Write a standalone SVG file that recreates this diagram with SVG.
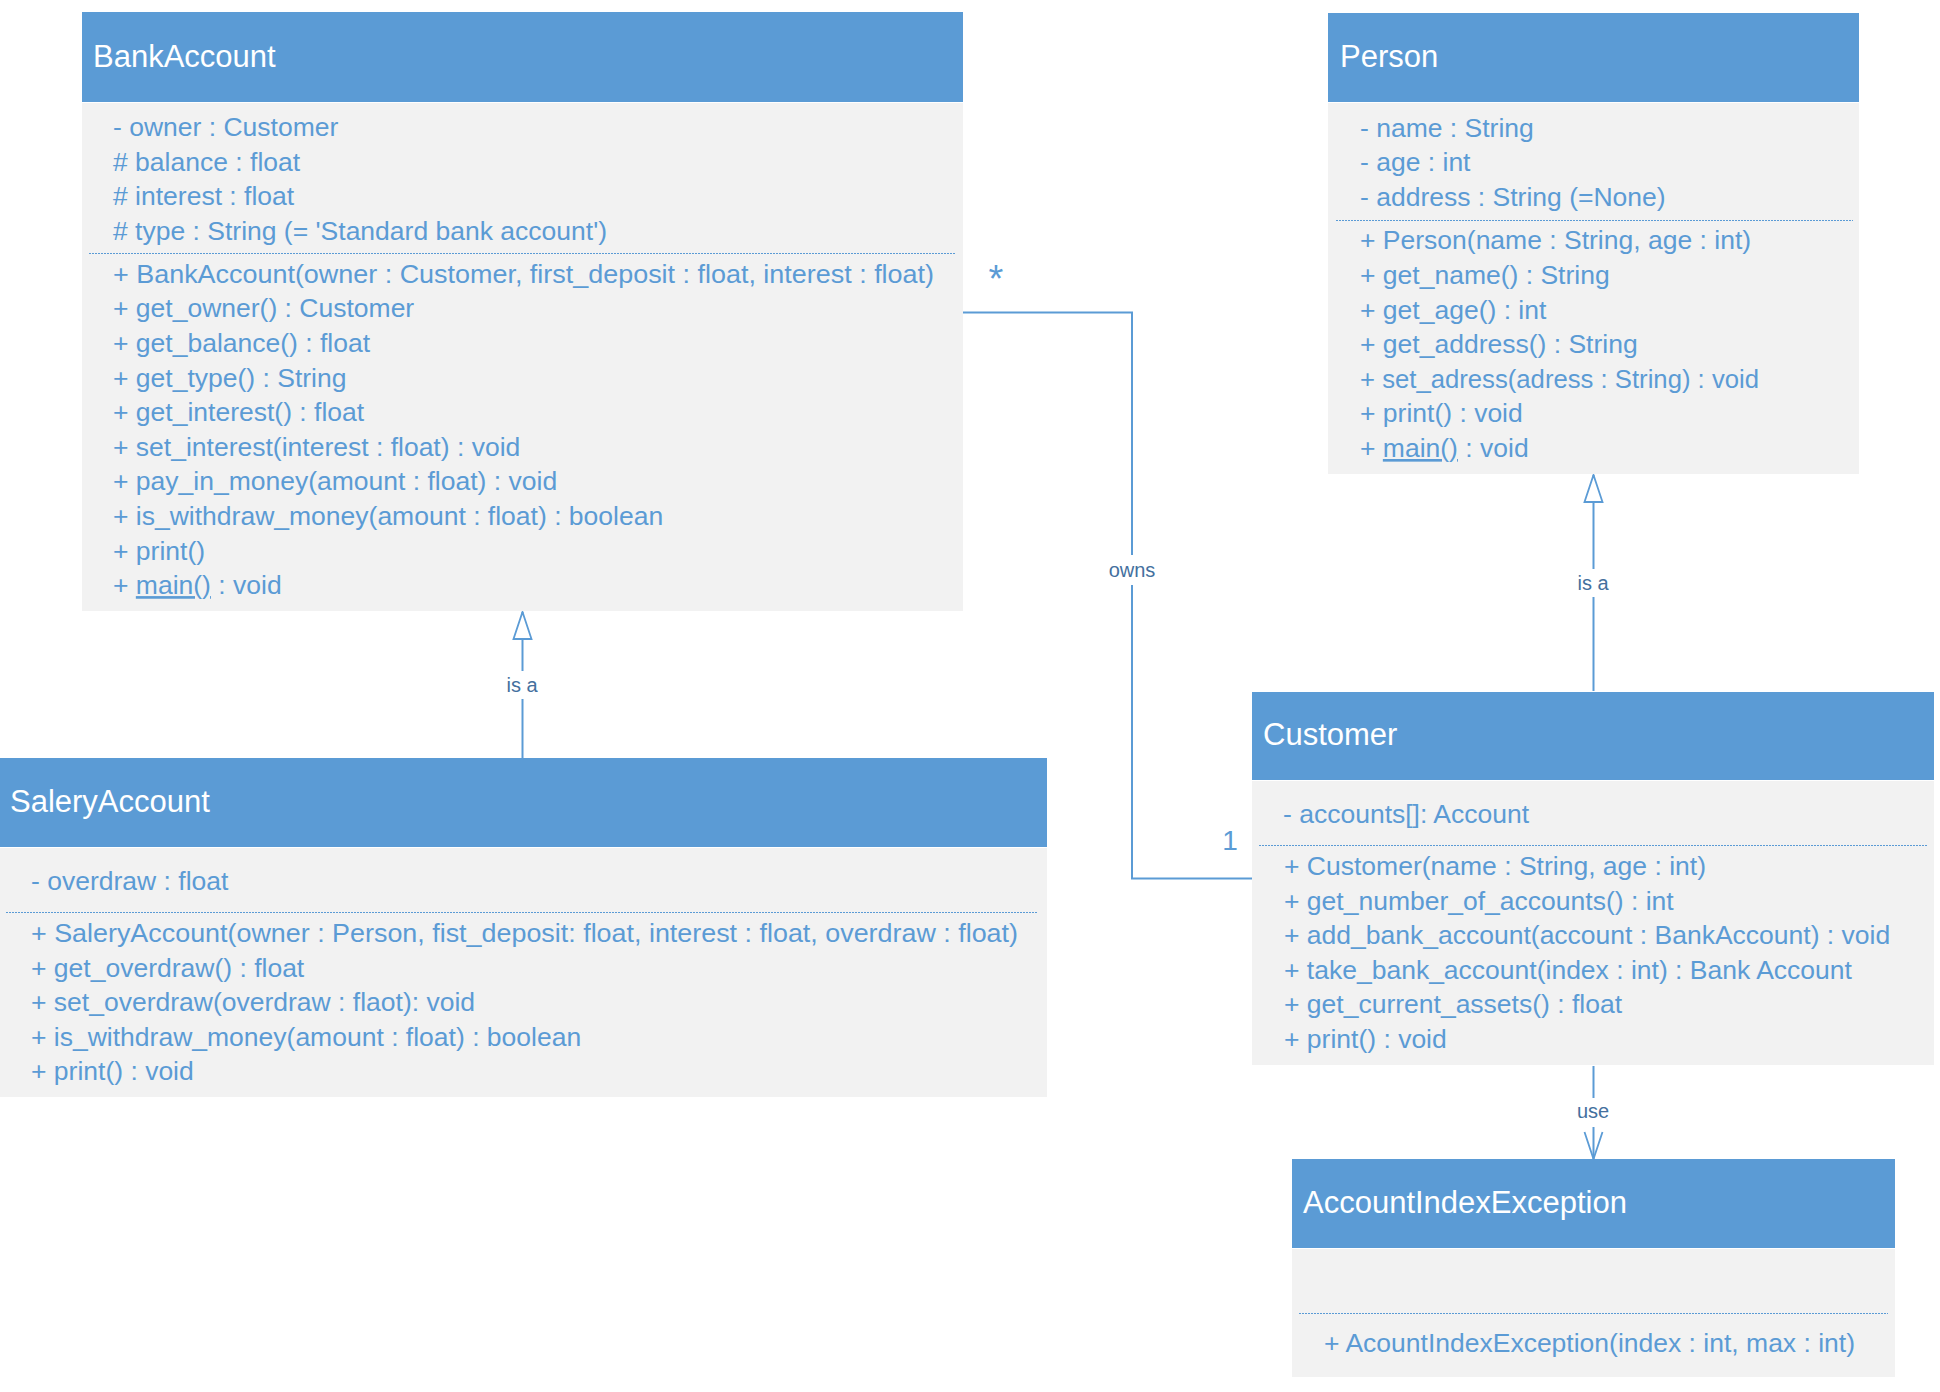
<svg xmlns="http://www.w3.org/2000/svg" width="1940" height="1392" viewBox="0 0 1940 1392">
<style>
.hdr{fill:#5B9BD5;}
.body{fill:#F2F2F2;}
.title{font-family:"Liberation Sans",Arial,sans-serif;font-size:31px;fill:#FFFFFF;}
.m{font-family:"Liberation Sans",Arial,sans-serif;font-size:26.5px;fill:#5B9BD5;}
.sep{stroke:#5B9BD5;stroke-width:1.2;stroke-dasharray:2 1;fill:none;}
.conn{stroke:#5B9BD5;stroke-width:2;fill:none;}
.lbl{font-family:"Liberation Sans",Arial,sans-serif;font-size:20px;fill:#44709E;text-anchor:middle;}
.mult{font-family:"Liberation Sans",Arial,sans-serif;font-size:28px;fill:#5B9BD5;text-anchor:middle;}
.star{font-family:"Liberation Sans",Arial,sans-serif;font-size:38px;fill:#5B9BD5;text-anchor:middle;}
.lblbg{fill:#FFFFFF;}
</style>
<defs>
<marker id="tri" markerUnits="userSpaceOnUse" markerWidth="30" markerHeight="22" refX="28" refY="11" orient="auto" viewBox="0 0 30 22">
<path d="M1,2 L28,11 L1,20 Z" fill="#FFFFFF" stroke="#5B9BD5" stroke-width="1.8"/>
</marker>
<marker id="open" markerUnits="userSpaceOnUse" markerWidth="30" markerHeight="22" refX="28" refY="11" orient="auto" viewBox="0 0 30 22">
<path d="M1,2 L28,11 L1,20" fill="none" stroke="#5B9BD5" stroke-width="1.8"/>
</marker>
</defs>
<rect width="1940" height="1392" fill="#FFFFFF"/>

<g id="connectors">
<g id="owns">
<polyline class="conn" points="963,312.5 1132,312.5 1132,878.5 1252,878.5"/>
<rect class="lblbg" x="1105" y="555" width="54" height="30"/>
<text class="lbl" x="1132" y="577">owns</text>
<text class="star" x="996" y="292">*</text>
<text class="mult" x="1230" y="850">1</text>
</g>
<g id="salery-isa">
<line class="conn" x1="522.5" y1="758" x2="522.5" y2="612" marker-end="url(#tri)"/>
<rect class="lblbg" x="500" y="671" width="45" height="28"/>
<text class="lbl" x="522" y="692">is a</text>
</g>
<g id="customer-isa">
<line class="conn" x1="1593.5" y1="691" x2="1593.5" y2="475" marker-end="url(#tri)"/>
<rect class="lblbg" x="1571" y="569" width="45" height="28"/>
<text class="lbl" x="1593" y="590">is a</text>
</g>
<g id="customer-use">
<line class="conn" x1="1593.5" y1="1066" x2="1593.5" y2="1159" marker-end="url(#open)"/>
<rect class="lblbg" x="1571" y="1098" width="45" height="29"/>
<text class="lbl" x="1593" y="1118">use</text>
</g>
</g>

<g id="BankAccount">
<rect class="hdr" x="82" y="12" width="881" height="90"/>
<rect class="body" x="82" y="103" width="881" height="508"/>
<text class="title" x="93" y="67">BankAccount</text>
<text class="m" x="113" y="136">- owner : Customer</text>
<text class="m" x="113" y="170.5"># balance : float</text>
<text class="m" x="113" y="205"># interest : float</text>
<text class="m" x="113" y="239.5"># type : String (= 'Standard bank account')</text>
<line class="sep" x1="89" y1="253.5" x2="956" y2="253.5"/>
<text class="m" x="113" y="282.7" textLength="821" lengthAdjust="spacingAndGlyphs">+ BankAccount(owner : Customer, first_deposit : float, interest : float)</text>
<text class="m" x="113" y="317.3">+ get_owner() : Customer</text>
<text class="m" x="113" y="351.9">+ get_balance() : float</text>
<text class="m" x="113" y="386.5">+ get_type() : String</text>
<text class="m" x="113" y="421.1">+ get_interest() : float</text>
<text class="m" x="113" y="455.7">+ set_interest(interest : float) : void</text>
<text class="m" x="113" y="490.3">+ pay_in_money(amount : float) : void</text>
<text class="m" x="113" y="524.9">+ is_withdraw_money(amount : float) : boolean</text>
<text class="m" x="113" y="559.5">+ print()</text>
<text class="m" x="113" y="594.1">+ <tspan text-decoration="underline">main()</tspan> : void</text>
</g>

<g id="Person">
<rect class="hdr" x="1328" y="13" width="531" height="89"/>
<rect class="body" x="1328" y="103" width="531" height="371"/>
<text class="title" x="1340" y="67">Person</text>
<text class="m" x="1360" y="136.7">- name : String</text>
<text class="m" x="1360" y="171.3">- age : int</text>
<text class="m" x="1360" y="206">- address : String (=None)</text>
<line class="sep" x1="1336" y1="220.5" x2="1853" y2="220.5"/>
<text class="m" x="1360" y="249.3">+ Person(name : String, age : int)</text>
<text class="m" x="1360" y="284">+ get_name() : String</text>
<text class="m" x="1360" y="318.6">+ get_age() : int</text>
<text class="m" x="1360" y="353.2">+ get_address() : String</text>
<text class="m" x="1360" y="387.8" textLength="399" lengthAdjust="spacingAndGlyphs">+ set_adress(adress : String) : void</text>
<text class="m" x="1360" y="422.4">+ print() : void</text>
<text class="m" x="1360" y="457">+ <tspan text-decoration="underline">main()</tspan> : void</text>
</g>

<g id="SaleryAccount">
<rect class="hdr" x="0" y="758" width="1047" height="89"/>
<rect class="body" x="0" y="848" width="1047" height="249"/>
<text class="title" x="10" y="812">SaleryAccount</text>
<text class="m" x="31" y="890">- overdraw : float</text>
<line class="sep" x1="6" y1="912.5" x2="1038" y2="912.5"/>
<text class="m" x="31" y="942" textLength="987" lengthAdjust="spacingAndGlyphs">+ SaleryAccount(owner : Person, fist_deposit: float, interest : float, overdraw : float)</text>
<text class="m" x="31" y="976.6">+ get_overdraw() : float</text>
<text class="m" x="31" y="1011.2">+ set_overdraw(overdraw : flaot): void</text>
<text class="m" x="31" y="1045.8">+ is_withdraw_money(amount : float) : boolean</text>
<text class="m" x="31" y="1080.4">+ print() : void</text>
</g>

<g id="Customer">
<rect class="hdr" x="1252" y="692" width="682" height="88"/>
<rect class="body" x="1252" y="781" width="682" height="284"/>
<text class="title" x="1263" y="745">Customer</text>
<text class="m" x="1283" y="822.7">- accounts[]: Account</text>
<line class="sep" x1="1259" y1="845.5" x2="1927" y2="845.5"/>
<text class="m" x="1284" y="875">+ Customer(name : String, age : int)</text>
<text class="m" x="1284" y="909.6">+ get_number_of_accounts() : int</text>
<text class="m" x="1284" y="944.2">+ add_bank_account(account : BankAccount) : void</text>
<text class="m" x="1284" y="978.8">+ take_bank_account(index : int) : Bank Account</text>
<text class="m" x="1284" y="1013.4">+ get_current_assets() : float</text>
<text class="m" x="1284" y="1048">+ print() : void</text>
</g>

<g id="AccountIndexException">
<rect class="hdr" x="1292" y="1159" width="603" height="89"/>
<rect class="body" x="1292" y="1249" width="603" height="128"/>
<text class="title" x="1303" y="1213">AccountIndexException</text>
<line class="sep" x1="1299" y1="1313.5" x2="1888" y2="1313.5"/>
<text class="m" x="1324" y="1352">+ AcountIndexException(index : int, max : int)</text>
</g>
</svg>
